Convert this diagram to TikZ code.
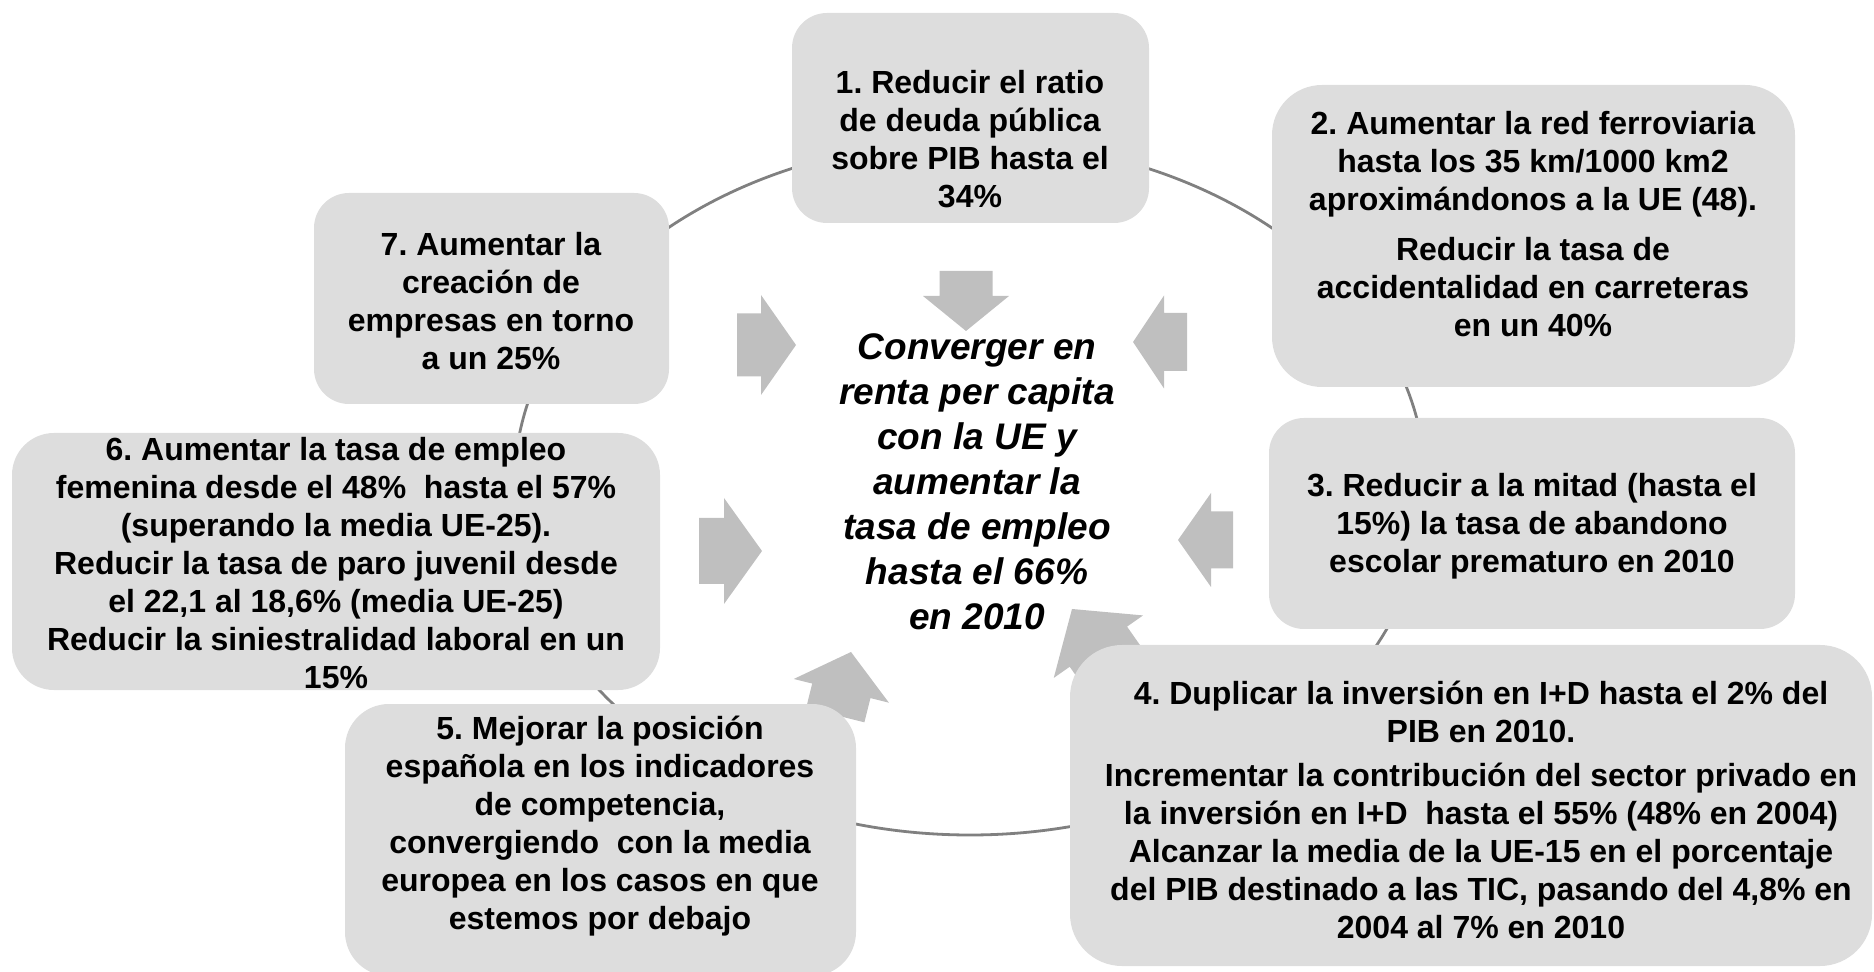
\documentclass[tikz,border=0pt]{standalone}
\usepackage{fontspec}
\setmainfont{Liberation Sans}
\usetikzlibrary{positioning}
\frenchspacing

\begin{document}
\begin{tikzpicture}[
    x=0.5pt, y=-0.5pt,
    objetivo/.style={rectangle, fill=gray!27, draw=none, inner sep=0pt},
    objtxt/.style={align=center, inner sep=0pt, font=\fontsize{16}{19}\selectfont\bfseries},
    meta/.style={align=center, inner sep=0pt, font=\fontsize{18.5}{22.5}\selectfont\bfseries\itshape},
    flecha/.style={fill=gray!50},
    anillo/.style={draw=gray, line width=1.4pt}
]
\useasboundingbox (0,0) rectangle (1874,972);

% anillo que une los objetivos
\draw[anillo] (970,488) ellipse [x radius=228pt, y radius=173.5pt];

% flechas hacia el objetivo central
\foreach \tx/\ty/\ang/\hl/\hw/\sl/\sw in {966/331/-90/35/86/25/53, 796/345/0/35/100/24/63,
    1133/342/180/31/93/23/58, 762/551/0/38/106/25/66, 1178/540/180/33/94/22/57,
    851/652/76/40/98/25/60, 1072/609/125/46/109/31/70}
  \fill[flecha, shift={(\tx,\ty)}, rotate=\ang] (0,0) -- ({-\hl},{\hw/2}) -- ({-\hl},{\sw/2})
    -- ({-\hl-\sl},{\sw/2}) -- ({-\hl-\sl},{-\sw/2}) -- ({-\hl},{-\sw/2}) -- ({-\hl},{-\hw/2}) -- cycle;

% cajas
\node[objetivo, minimum width=178.5pt, minimum height=105pt, rounded corners=17.5pt] (b1) at (970.5,118) {};
\node[objetivo, minimum width=261.5pt, minimum height=151pt, rounded corners=25pt] (b2) at (1533.5,236) {};
\node[objetivo, minimum width=263pt, minimum height=105.5pt, rounded corners=17.5pt] (b3) at (1532,523.5) {};
\node[objetivo, minimum width=401pt, minimum height=160.5pt, rounded corners=26pt] (b4) at (1471,805.5) {};
\node[objetivo, minimum width=255.5pt, minimum height=136pt, rounded corners=22pt] (b5) at (600.5,840) {};
\node[objetivo, minimum width=324pt, minimum height=128.5pt, rounded corners=21pt] (b6) at (336,561.5) {};
\node[objetivo, minimum width=177.5pt, minimum height=105.5pt, rounded corners=17.5pt] (b7) at (491.5,298.5) {};

% textos
\node[objtxt] (t1) at (970,139) {1. Reducir el ratio\\ de deuda pública\\ sobre PIB hasta el\\ 34\%};
\node[objtxt] (t2) at (1533,224) {2. Aumentar la red ferroviaria\\ hasta los 35 km/1000 km2\\ aproximándonos a la UE (48).\\[6pt]
    Reducir la tasa de\\ accidentalidad en carreteras\\ en un 40\%};
\node[objtxt] (t3) at (1532,526) {3. Reducir a la mitad (hasta el\\ 15\%) la tasa de abandono\\ escolar prematuro en 2010};
\node[objtxt] (t4) at (1481,810) {4. Duplicar la inversión en I+D hasta el 2\% del\\ PIB en 2010.\\[3pt]
    Incrementar la contribución del sector privado en\\ la inversión en I+D\ \ hasta el 55\% (48\% en 2004)\\
    Alcanzar la media de la UE-15 en el porcentaje\\ del PIB destinado a las TIC, pasando del 4,8\% en\\ 2004 al 7\% en 2010};
\node[objtxt] (t5) at (600,826) {5. Mejorar la posición\\ española en los indicadores\\ de competencia,\\
    convergiendo\ \ con la media\\ europea en los casos en que\\ estemos por debajo};
\node[objtxt] (t6) at (336,563) {6. Aumentar la tasa de empleo\\ femenina desde el 48\%\ \ hasta el 57\%\\
    (superando la media UE-25).\\ Reducir la tasa de paro juvenil desde\\ el 22,1 al 18,6\% (media UE-25)\\
    Reducir la siniestralidad laboral en un\\ 15\%};
\node[objtxt] (t7) at (491,301) {7. Aumentar la\\ creación de\\ empresas en torno\\ a un 25\%};

\node[meta] (centro) at (977,482) {Converger en\\ renta per capita\\ con la UE y\\ aumentar la\\ tasa de empleo\\ hasta el 66\%\\ en 2010};
\end{tikzpicture}
\end{document}
